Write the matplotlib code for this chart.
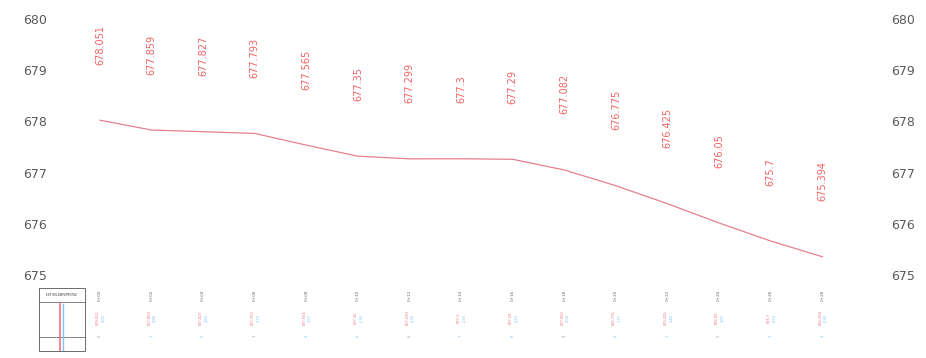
# Longitudinal profile: ground levels at each station
import numpy as np
import matplotlib.pyplot as plt

# Data
stations = list(range(15))
levels = [678.051, 677.859, 677.827, 677.793, 677.565, 677.35, 677.299, 677.3,
          677.29, 677.082, 676.775, 676.425, 676.05, 675.7, 675.394]
level_labels = ["678.051", "677.859", "677.827", "677.793", "677.565", "677.35",
                "677.299", "677.3", "677.29", "677.082", "676.775", "676.425",
                "676.05", "675.7", "675.394"]
ytick_values = [675, 676, 677, 678, 679, 680]

# Scale: station spacing and vertical scale in pixels
W, H = 926, 358
x0_px, dx_px = 100, 51.6
y680_px, dy_px = 20, 51.4

fig = plt.figure(figsize=(W / 100, H / 100), dpi=100)
ax = fig.add_axes([0, 0, 1, 1])
ax.set_xlim(-x0_px / dx_px, (W - x0_px) / dx_px)
ax.set_ylim(680 - (H - y680_px) / dy_px, 680 + y680_px / dy_px)
ax.axis("off")


def ypx(p):
    # pixel row -> elevation (used only for the table rows below the profile)
    return 680 - (p - y680_px) / dy_px


def xpx(p):
    return (p - x0_px) / dx_px


# Elevation ticks on both sides
for v in ytick_values:
    ax.text(xpx(35), v, str(v), ha="center", va="center", fontsize=9, color="#5a5a5a")
    ax.text(xpx(903), v, str(v), ha="center", va="center", fontsize=9, color="#5a5a5a")

# Profile line
ax.plot(stations, levels, color="#e6808e", lw=0.9)

# Level labels above the line
for s, v, lab in zip(stations, levels, level_labels):
    ax.text(s, v + 1.08, lab, rotation=90, ha="center", va="bottom",
            fontsize=7, color="#f06262")

# Table box at the bottom left
bx0, bx1 = xpx(39), xpx(85)
by0, by1 = ypx(288), ypx(351)
ax.plot([bx0, bx1, bx1, bx0, bx0], [by0, by0, by1, by1, by0], color="#555555", lw=0.6)
ax.plot([bx0, bx1], [ypx(302), ypx(302)], color="#555555", lw=0.5)
ax.plot([bx0, bx1], [ypx(337), ypx(337)], color="#555555", lw=0.5)
ax.text(xpx(62), ypx(295), "EXP HOLDERS/PROFILE", ha="center", va="center",
        fontsize=2, color="#333333")
ax.plot([xpx(60), xpx(60)], [ypx(304), ypx(350)], color="#f07080", lw=1.2)
ax.plot([xpx(63), xpx(63)], [ypx(304), ypx(350)], color="#80c4ee", lw=1.0)

# Table rows under each station
for s, v, lab in zip(stations, levels, level_labels):
    ax.text(s, ypx(295), "0+%02d" % (s * 2), rotation=90, ha="center", va="center",
            fontsize=3, color="#666666")
    ax.text(s - 0.04, ypx(318), lab, rotation=90, ha="center", va="center",
            fontsize=2.6, color="#f07080")
    ax.text(s + 0.07, ypx(318), "%.2f" % (v - 675), rotation=90, ha="center",
            va="center", fontsize=2.6, color="#80c4ee")
    ax.text(s, ypx(336), "%d" % (s % 10), rotation=90, ha="center", va="center",
            fontsize=2.6, color="#80c4ee" if s % 3 else "#999999")

fig.savefig("out.png", dpi=100)
